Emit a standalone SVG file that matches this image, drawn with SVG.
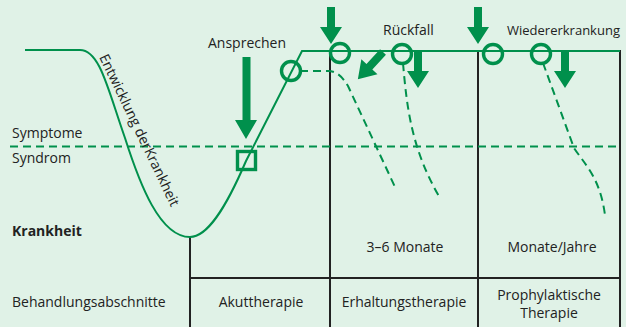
<svg xmlns="http://www.w3.org/2000/svg" xmlns:xlink="http://www.w3.org/1999/xlink" width="626" height="327" viewBox="0 0 626 327">
<style>
.t{font-family:"Open Sans","Liberation Sans",sans-serif;font-size:14px;fill:#222}
.b{font-weight:bold}
.m{text-anchor:middle}
.g{fill:none;stroke:#00904c;stroke-width:2}
.d{fill:none;stroke:#00904c;stroke-width:2;stroke-dasharray:8 5}
.c{fill:none;stroke:#00904c;stroke-width:3.4}
.k{fill:none;stroke:#222;stroke-width:2}
.a{fill:#00904c}
</style>
<defs>
<path id="arr" d="M-4,0 H4 V20 H11 L0,37 L-11,20 H-4 Z"/>
</defs>
<rect x="0" y="0" width="626" height="327" fill="#e0f2e7"/>
<g id="grid">
<path class="k" d="M190,237 V327 M330,50 V327 M478,50 V327 M620,50 V327 M190,278 H621"/>
</g>
<g id="connectors">
<path class="d" d="M10,146.5 H620"/>
<path class="g" d="M25,50 H80 C100,50 108,90 125,138 C140,185 160,237 190,237 C207,237 225,210 246,161 L302,51 H620"/>
<path class="d" d="M300,71 H328 C336,71 342,76 348,86 L395,187"/>
<path class="d" d="M403,63 C407,110 412,150 440,198"/>
<path class="d" d="M543,63 L574,148 C586,166 600,178 605,215"/>
</g>
<g id="markers">
<rect class="c" x="237.5" y="151.5" width="18" height="18"/>
<circle class="c" cx="291" cy="71" r="9.5"/>
<circle class="c" cx="340" cy="53" r="9.5"/>
<circle class="c" cx="402" cy="54" r="9.5"/>
<circle class="c" cx="493" cy="54" r="9.5"/>
<circle class="c" cx="541" cy="54" r="9.5"/>
</g>
<g id="arrows">
<path class="a" d="M242.5,57 H250.5 V120 H257 L246,139 L235,120 H242.5 Z"/>
<use class="a" xlink:href="#arr" transform="translate(331,7)"/>
<use class="a" xlink:href="#arr" transform="translate(418,51)"/>
<use class="a" xlink:href="#arr" transform="translate(478,7)"/>
<use class="a" xlink:href="#arr" transform="translate(565,51)"/>
<use class="a" xlink:href="#arr" transform="translate(383,52) rotate(42.8)"/>
</g>
<g id="labels">
<text class="t" x="208" y="48">Ansprechen</text>
<text class="t" x="383" y="35">Rückfall</text>
<text class="t" x="507" y="35" style="font-size:13px">Wiedererkrankung</text>
<text class="t" x="12" y="138">Symptome</text>
<text class="t" x="12" y="163">Syndrom</text>
<text class="t b" x="12" y="236">Krankheit</text>
<text class="t" x="12" y="307">Behandlungsabschnitte</text>
<text class="t m" x="261" y="307">Akuttherapie</text>
<text class="t m" x="404" y="307">Erhaltungstherapie</text>
<text class="t m" x="549" y="300">Prophylaktische</text>
<text class="t m" x="549" y="318">Therapie</text>
<text class="t m" x="405" y="252">3–6 Monate</text>
<text class="t m" x="552" y="252">Monate/Jahre</text>
<text class="t" transform="translate(99,57) rotate(64.4)">Entwicklung derKrankheit</text>
</g>
</svg>
